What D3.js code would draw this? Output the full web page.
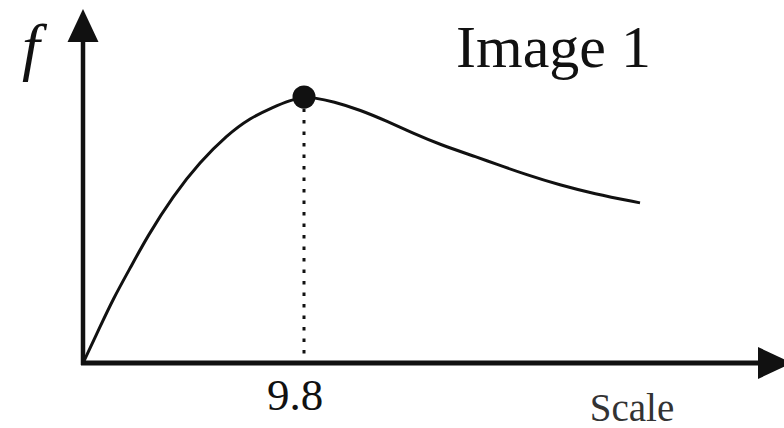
<!DOCTYPE html>
<html>
<head>
<meta charset="utf-8">
<script src="https://cdn.jsdelivr.net/npm/d3@7"></script>
</head>
<body style="margin:0;padding:0;background:#fff">
<svg id="chart" width="784" height="428" style="display:block"></svg>
<script>
// ---- data ----
const scaleValues = [0, 0.75, 1.33, 2.08, 2.84, 3.99, 5.19, 6.39, 7.41, 8.43, 9.18, 9.8,
  10.2, 11.1, 12.3, 13.5, 14.6, 15.8, 17.6, 18.18, 19.69, 21.15, 22.62, 24.7];
const fValues = [0, 0.135, 0.24, 0.355, 0.474, 0.628, 0.756, 0.857, 0.921, 0.962, 0.988, 1.0,
  0.998, 0.983, 0.951, 0.908, 0.865, 0.822, 0.77, 0.752, 0.707, 0.669, 0.637, 0.602];
const peakScale = [9.8];
const peakF = [1.0];
const tickLabels = ["9.8"];
const xAxisTitle = "Scale";
const yAxisTitle = "f";
const chartTitle = "Image 1";

// ---- layout ----
const svg = d3.select("#chart");
const ink = "#111";
const serif = "'Liberation Serif'";
const x = d3.scaleLinear().domain([0, 9.8]).range([83, 304]);
const y = d3.scaleLinear().domain([0, 1]).range([363, 97]);

const x0 = x(0), y0 = y(0);

// axes
svg.append("line").attr("x1", x0 - 2).attr("y1", y0).attr("x2", 762).attr("y2", y0)
  .attr("stroke", ink).attr("stroke-width", 5);
svg.append("line").attr("x1", x0).attr("y1", y0 + 2).attr("x2", x0).attr("y2", 38)
  .attr("stroke", ink).attr("stroke-width", 4.5);
// arrowheads
svg.append("path").attr("d", `M758,${y0 - 16} L792,${y0} L758,${y0 + 16} Z`).attr("fill", ink);
svg.append("path").attr("d", `M${x0 - 15.5},42 L${x0},9 L${x0 + 15.5},42 Z`).attr("fill", ink);

// dashed drop line
svg.append("line")
  .attr("x1", x(peakScale[0])).attr("x2", x(peakScale[0]))
  .attr("y1", y(peakF[0])).attr("y2", y0 - 2)
  .attr("stroke", ink).attr("stroke-width", 3)
  .attr("stroke-dasharray", "3.5,8");

// curve
const pts = scaleValues.map((s, i) => [s, fValues[i]]);
const line = d3.line().x(d => x(d[0])).y(d => y(d[1])).curve(d3.curveBasis);
svg.append("path").datum(pts).attr("d", line)
  .attr("fill", "none").attr("stroke", ink).attr("stroke-width", 3);

// peak dot
svg.selectAll("circle.peak").data(peakScale).enter().append("circle")
  .attr("cx", d => x(d)).attr("cy", (d, i) => y(peakF[i])).attr("r", 11.5).attr("fill", ink);

// tick label
svg.selectAll("text.tick").data(tickLabels).enter().append("text")
  .attr("x", (d, i) => x(peakScale[i]) - 9).attr("y", 410)
  .attr("text-anchor", "middle")
  .style("font-family", serif)
  .attr("font-size", 45).attr("fill", ink).text(d => d);

// axis titles
svg.append("text").attr("x", 632).attr("y", 421).attr("text-anchor", "middle")
  .style("font-family", serif)
  .attr("font-size", 39).attr("fill", "#333").text(xAxisTitle);
svg.append("text").attr("x", 22).attr("y", 68)
  .style("font-family", serif)
  .attr("font-style", "italic")
  .attr("font-size", 64).attr("fill", ink).text(yAxisTitle);

// title
svg.append("text").attr("x", 456).attr("y", 67)
  .style("font-family", serif)
  .attr("font-size", 60).attr("fill", ink).text(chartTitle);
</script>
</body>
</html>
